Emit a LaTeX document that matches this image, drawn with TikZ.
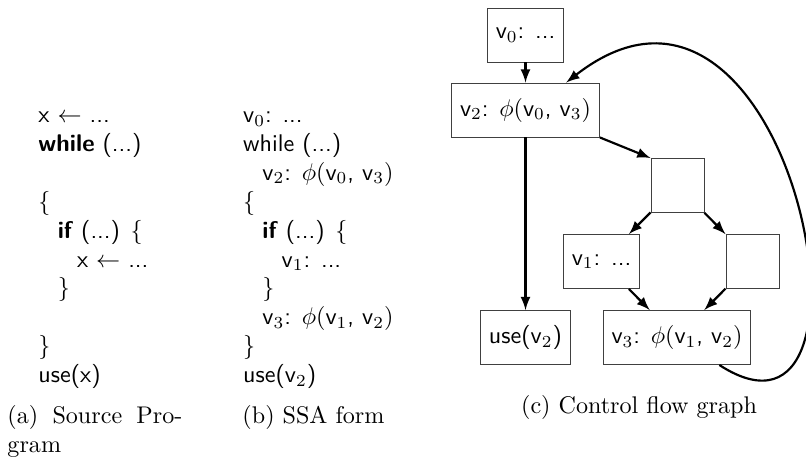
\documentclass[tikz,border=0pt]{standalone}
\usepackage{amsmath}
\usepackage{tikz}
\usetikzlibrary{positioning}

\newcommand{\ssav}[1]{\ensuremath{\mathsf{v}_{#1}}}

\begin{document}
\begin{tikzpicture}[x=0.415pt, y=-0.415pt]
        % Define block styles
        \tikzstyle{block} = [rectangle, draw=black!75, minimum width=22pt, minimum height=22.4pt, inner xsep=3.5pt, font=\sffamily]
        \tikzstyle{line} = [draw, -latex, line width=0.9pt]
        \tikzstyle{listing} = [anchor=base west, align=left, inner sep=0pt, font=\sffamily]
        \tikzstyle{caption} = [anchor=base west, align=left, inner sep=0pt]

        \useasboundingbox (0,0) rectangle (806,459);

        % Listings
        \node [listing] (source) at (38,382.7) {x $\leftarrow$ ...\\
          \textbf{while} (...)\\
          \mbox{}\\
          $\{$\\
          \hspace*{8pt}\textbf{if} (...) $\{$\\
          \hspace*{16pt}x $\leftarrow$ ...\\
          \hspace*{8pt}$\}$\\
          \mbox{}\\
          $\}$\\
          use(x)};
        \node [listing] (ssa) at (242.7,382.7) {\ssav{0}: ...\\
          while (...)\\
          \hspace*{8pt}\ssav{2}: $\phi($\ssav{0}, \ssav{3}$)$\\
          $\{$\\
          \hspace*{8pt}\textbf{if} (...) $\{$\\
          \hspace*{16pt}\ssav{1}: ...\\
          \hspace*{8pt}$\}$\\
          \hspace*{8pt}\ssav{3}: $\phi($\ssav{1}, \ssav{2}$)$\\
          $\}$\\
          use(\ssav{2})};

        % Nodes
        \node [block] (vzero) at (525.5,35) {\ssav{0}: ...};
        \node [block] (vtwo) at (525.5,110) {\ssav{2}: $\phi($\ssav{0}, \ssav{3}$)$};
        \node [block] (branch) at (677.5,185.5) {};
        \node [block] (vone) at (601.5,261.5) {\ssav{1}: ...};
        \node [block] (empty) at (752.5,261.5) {};
        \node [block] (use) at (525.5,337.5) {use(\ssav{2})};
        \node [block] (vthree) at (677,337.5) {\ssav{3}: $\phi($\ssav{1}, \ssav{2}$)$};

        % Arrows
        \path [line] (vzero) -- (vtwo);
        \path [line] (vtwo) -- (use);
        \path [line] (vtwo.south east) -- (branch.north west);
        \path [line] (branch) -- (vone);
        \path [line] (branch) -- (empty);
        \path [line] (vone) -- (vthree);
        \path [line] (empty) -- (vthree);
        \path [line] (vthree.-33) to[out=-33, in=38, out looseness=1.7, in looseness=2.3] (vtwo.34);

        % Captions
        \node [caption] (capa) at (7,452) {\makebox[72.6pt][s]{(a) Source Pro-}\\gram};
        \node [caption] (capb) at (242,423) {(b) SSA form};
        \node [caption, anchor=base] (capc) at (639,413) {(c) Control flow graph};

    \end{tikzpicture}
\end{document}
